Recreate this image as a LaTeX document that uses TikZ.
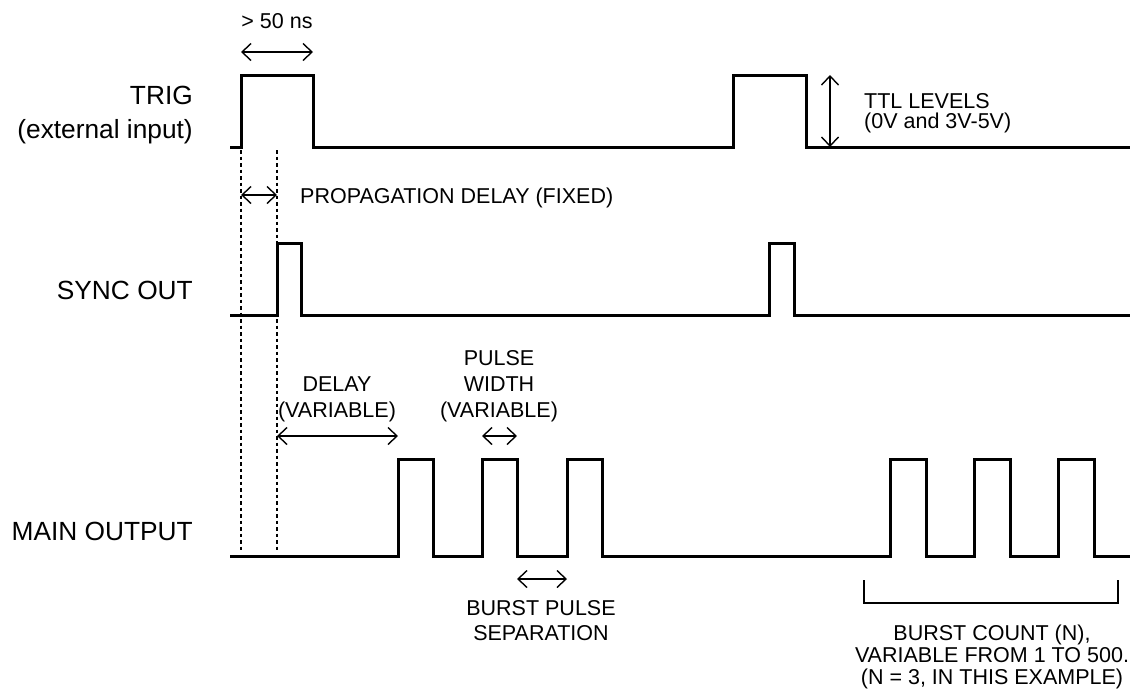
\documentclass[tikz,border=0pt]{standalone}
\usepackage{fontspec}
\setmainfont{Liberation Sans}
\usetikzlibrary{arrows.meta}
\begin{document}
\begin{tikzpicture}[x=1pt,y=-1pt,
  wave/.style={line width=3pt, line join=miter, line cap=butt},
  meas/.style={line width=1.4pt, {Straight Barb[length=9pt,width=17pt]}-{Straight Barb[length=9pt,width=17pt]}},
  guide/.style={line width=1.7pt, dash pattern=on 3.5pt off 3pt},
  bracketline/.style={line width=1.3pt},
  big/.style={font=\fontsize{26.3}{30}\selectfont, inner sep=0pt},
  small/.style={font=\fontsize{21.5}{26}\selectfont, inner sep=0pt}]
\useasboundingbox (0,0) rectangle (1130,694);

% waveforms
\draw[wave] (230,147) -- (241,147) -- (241,75) -- (313,75) -- (313,147)
  -- (733,147) -- (733,75) -- (806,75) -- (806,147) -- (1130,147);
\draw[wave] (230,315) -- (277,315) -- (277,243) -- (301,243) -- (301,315)
  -- (769,315) -- (769,243) -- (794,243) -- (794,315) -- (1130,315);
\draw[wave] (230,556) -- (398,556) -- (398,459) -- (433,459) -- (433,556)
  -- (482,556) -- (482,459) -- (517,459) -- (517,556)
  -- (567,556) -- (567,459) -- (602,459) -- (602,556)
  -- (890,556) -- (890,459) -- (926,459) -- (926,556)
  -- (974,556) -- (974,459) -- (1010,459) -- (1010,556)
  -- (1058,556) -- (1058,459) -- (1094,459) -- (1094,556) -- (1130,556);

% dotted guides
\coordinate (g1a) at (241,150); \coordinate (g1b) at (241,553);
\coordinate (g2a) at (277,150); \coordinate (g2b) at (277,553);
\draw[guide] (g1a) -- (g1b);
\draw[guide] (g2a) -- (g2b);

% measurement arrows
\coordinate (w1) at (241,52); \coordinate (w2) at (313,52);
\draw[meas] (w1) -- (w2);
\coordinate (p1) at (241,195); \coordinate (p2) at (277,195);
\draw[meas] (p1) -- (p2);
\coordinate (t1) at (830,75); \coordinate (t2) at (830,147);
\draw[meas] (t1) -- (t2);
\coordinate (d1) at (277,436); \coordinate (d2) at (398,436);
\draw[meas] (d1) -- (d2);
\coordinate (pw1) at (482,436); \coordinate (pw2) at (517,436);
\draw[meas] (pw1) -- (pw2);
\coordinate (s1) at (517,579); \coordinate (s2) at (567,579);
\draw[meas] (s1) -- (s2);

% burst count bracket
\draw[bracketline] (864,580) -- (864,603) -- (1118,603) -- (1118,580);

% signal labels
\node[big, anchor=base east] (trig) at (193,104) {TRIG};
\node[big, anchor=base east] (trigsub) at (193,138) {(external input)};
\node[big, anchor=base east] (sync) at (193,299) {SYNC OUT};
\node[big, anchor=base east] (main) at (193,540) {MAIN OUTPUT};

% annotations
\node[small, anchor=base] (ns) at (277,28) {> 50 ns};
\node[small, anchor=base west] (prop) at (300,203) {PROPAGATION DELAY (FIXED)};
\node[small, anchor=base west] (ttl1) at (864,108) {TTL LEVELS};
\node[small, anchor=base west] (ttl2) at (864,128) {(0V and 3V-5V)};
\node[small, anchor=base] (dl1) at (337,391) {DELAY};
\node[small, anchor=base] (dl2) at (337,417) {(VARIABLE)};
\node[small, anchor=base] (pwl1) at (499,365) {PULSE};
\node[small, anchor=base] (pwl2) at (499,391) {WIDTH};
\node[small, anchor=base] (pwl3) at (499,417) {(VARIABLE)};
\node[small, anchor=base] (bs1) at (541,615) {BURST PULSE};
\node[small, anchor=base] (bs2) at (541,640) {SEPARATION};
\node[small, anchor=base] (bc1) at (992,640) {BURST COUNT (N),};
\node[small, anchor=base] (bc2) at (992,662) {VARIABLE FROM 1 TO 500.};
\node[small, anchor=base] (bc3) at (992,684) {(N = 3, IN THIS EXAMPLE)};
\end{tikzpicture}
\end{document}
